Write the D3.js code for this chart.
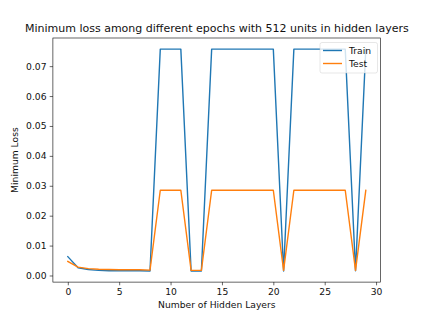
<!DOCTYPE html>
<html><head><meta charset="utf-8">
<script src="https://cdn.jsdelivr.net/npm/d3@7"></script>
<style>
body{margin:0;background:#fff;}
svg{display:block;font-family:"DejaVu Sans",sans-serif;}
</style></head>
<body>
<svg id="c" width="423" height="317"></svg>
<script>
const layers = d3.range(0, 30);
const trainLoss = [0.0063, 0.0026, 0.0020, 0.0017, 0.0016, 0.0016, 0.0016, 0.0016, 0.0015,
  0.0757, 0.0757, 0.0757, 0.0015, 0.0015,
  0.0757, 0.0757, 0.0757, 0.0757, 0.0757, 0.0757, 0.0757, 0.0015,
  0.0757, 0.0757, 0.0757, 0.0757, 0.0757, 0.0757, 0.0016, 0.0757];
const testLoss = [0.0047, 0.0028, 0.0023, 0.0021, 0.0020, 0.0019, 0.0019, 0.0019, 0.0018,
  0.0285, 0.0285, 0.0285, 0.0017, 0.0017,
  0.0285, 0.0285, 0.0285, 0.0285, 0.0285, 0.0285, 0.0285, 0.0017,
  0.0285, 0.0285, 0.0285, 0.0285, 0.0285, 0.0285, 0.0017, 0.0285];
const xTicks = [0, 5, 10, 15, 20, 25, 30];
const yTicks = [0, 0.01, 0.02, 0.03, 0.04, 0.05, 0.06, 0.07];
const seriesNames = ["Train", "Test"];
const seriesColors = ["#1f77b4", "#ff7f0e"];
const title = "Minimum loss among different epochs with 512 units in hidden layers";
const xLabel = "Number of Hidden Layers";
const yLabel = "Minimum Loss";

const W = 423, H = 317;
const L = 52.9, R = 380.7, T = 38.0, B = 282.1;
const svg = d3.select("#c");
const txt = "#111";

const xr = d3.extent(layers), xpad = (xr[1]-xr[0])*0.05;
const x = d3.scaleLinear().domain([xr[0]-xpad, xr[1]+xpad]).range([L, R]);
const all = trainLoss.concat(testLoss);
const yr = d3.extent(all), ypad = (yr[1]-yr[0])*0.05;
const y = d3.scaleLinear().domain([yr[0]-ypad, yr[1]+ypad]).range([B, T]);

// lines
const series = [trainLoss, testLoss];
const line = d3.line().x((d,i)=>x(layers[i])).y(d=>y(d));
series.forEach((s,k)=>{
  svg.append("path").datum(s).attr("d", line)
    .attr("fill","none").attr("stroke", seriesColors[k])
    .attr("stroke-width",1.4).attr("stroke-linejoin","round").attr("stroke-linecap","square");
});

// axes
const fs = 9.2;
const xAxis = d3.axisBottom(x).tickValues(xTicks).tickSize(3.2).tickPadding(3.2).tickFormat(d3.format("d"));
const gx = svg.append("g").attr("transform",`translate(0,${B})`).call(xAxis);
const yAxis = d3.axisLeft(y).tickValues(yTicks).tickSize(3.2).tickPadding(3.2).tickFormat(d3.format(".2f"));
const gy = svg.append("g").attr("transform",`translate(${L},0)`).call(yAxis);
[gx,gy].forEach(g=>{
  g.select(".domain").remove();
  g.selectAll("line").attr("stroke","#000").attr("stroke-width",0.6);
  g.selectAll("text").attr("fill",txt).style("font-size",fs+"px").style("font-family","DejaVu Sans");
});

// frame
svg.append("rect").attr("x",L).attr("y",T).attr("width",R-L).attr("height",B-T)
  .attr("fill","none").attr("stroke","#000").attr("stroke-width",0.6);

// legend
const lg = svg.append("g");
lg.append("rect").attr("x",320).attr("y",42.5).attr("width",57.5).attr("height",30.5)
  .attr("rx",2).attr("fill","#fff").attr("fill-opacity",0.8)
  .attr("stroke","#ccc").attr("stroke-opacity",0.8).attr("stroke-width",0.6);
seriesNames.forEach((n,i)=>{
  const yy = 50.5 + i*13;
  lg.append("line").attr("x1",323).attr("x2",342).attr("y1",yy).attr("y2",yy)
    .attr("stroke",seriesColors[i]).attr("stroke-width",1.4);
  lg.append("text").attr("x",349).attr("y",yy+3.3).text(n)
    .style("font-size",fs+"px").attr("fill",txt);
});

// labels
svg.append("text").attr("x",(L+R)/2).attr("y",32).attr("text-anchor","middle")
  .style("font-size","11px").attr("fill",txt).text(title);
svg.append("text").attr("x",(L+R)/2).attr("y",307.5).attr("text-anchor","middle")
  .style("font-size",fs+"px").attr("fill",txt).text(xLabel);
svg.append("text").attr("transform",`translate(18,${(T+B)/2}) rotate(-90)`).attr("text-anchor","middle")
  .style("font-size",fs+"px").attr("fill",txt).text(yLabel);
</script>
</body></html>
